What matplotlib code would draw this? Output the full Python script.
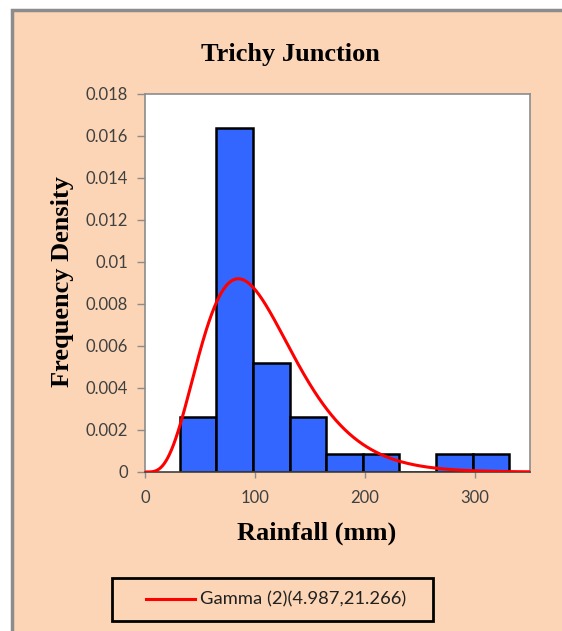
import math
import numpy as np
import matplotlib
matplotlib.use("Agg")
import matplotlib.pyplot as plt
from matplotlib.patches import Rectangle
from matplotlib.lines import Line2D

# histogram of monthly rainfall, 9 classes of width 33.3 mm
bin_start = 31.5
bin_width = 33.3
freq_density = [0.0026, 0.0164, 0.0052, 0.0026, 0.00087, 0.00087, 0.0, 0.00087, 0.00087]

# fitted gamma distribution (shape, scale)
gamma_shape = 4.987
gamma_scale = 21.266
fit_label = "Gamma (2)(4.987,21.266)"

title = "Trichy Junction"
xlabel = "Rainfall (mm)"
ylabel = "Frequency Density"
yticks = [0, 0.002, 0.004, 0.006, 0.008, 0.01, 0.012, 0.014, 0.016, 0.018]
ytick_labels = ["0", "0.002", "0.004", "0.006", "0.008", "0.01", "0.012", "0.014", "0.016", "0.018"]
xticks = [0, 100, 200, 300]

peach = "#FBD5B5"
W, H = 562, 631


def gamma_pdf(x, k, theta):
    x = np.asarray(x, dtype=float)
    out = np.zeros_like(x)
    pos = x > 0
    out[pos] = np.exp((k - 1) * np.log(x[pos]) - x[pos] / theta
                      - math.lgamma(k) - k * math.log(theta))
    return out


fig = plt.figure(figsize=(W / 100, H / 100), dpi=100, facecolor="white")

# chart area background with grey border on top / left
fig.patches.append(Rectangle((12 / W, -0.05), 1.1, 1 - 10 / H + 0.05,
                             transform=fig.transFigure, facecolor=peach,
                             edgecolor="#8c8c8c", linewidth=2.5, zorder=-10))

ax = fig.add_axes([145 / W, 1 - 472 / H, (530 - 145) / W, (472 - 94) / H])
ax.set_facecolor("white")

lefts = bin_start + bin_width * np.arange(len(freq_density))
ax.bar(lefts, freq_density, width=bin_width, align="edge",
       color="#3366FF", edgecolor="black", linewidth=1.8, zorder=2)

xs = np.linspace(0, 350, 700)
ax.plot(xs, gamma_pdf(xs, gamma_shape, gamma_scale), color="red", lw=2.2, zorder=3)

ax.set_xlim(0, 350)
ax.set_ylim(0, 0.018)
ax.set_yticks(yticks)
ax.set_yticklabels(ytick_labels)
ax.set_xticks(xticks)

for lab in ax.get_xticklabels() + ax.get_yticklabels():
    lab.set_fontfamily("Lato")
    lab.set_fontsize(12)
    lab.set_color("#404040")
ax.tick_params(axis="y", direction="out", length=6, width=1, color="#8c8c8c", pad=6)
ax.tick_params(axis="x", direction="out", length=4, width=1, color="#8c8c8c", pad=9)

for side in ["top", "right", "left"]:
    ax.spines[side].set_color("#8c8c8c")
    ax.spines[side].set_linewidth(1.2)
ax.spines["bottom"].set_color("#404040")
ax.spines["bottom"].set_linewidth(1.2)

serif = "Liberation Serif"
fig.text(290 / W, 1 - 55 / H, title, ha="center", va="center",
         family=serif, weight="bold", fontsize=19)
fig.text(317 / W, 1 - 533 / H, xlabel, ha="center", va="center",
         family=serif, weight="bold", fontsize=19)
fig.text(62 / W, 1 - 282 / H, ylabel, ha="center", va="center", rotation=90,
         family=serif, weight="bold", fontsize=19)

# legend box
fig.patches.append(Rectangle((112 / W, 1 - 621 / H), 321 / W, 43 / H,
                             transform=fig.transFigure, facecolor=peach,
                             edgecolor="black", linewidth=2, zorder=3))
fig.lines.append(Line2D([146 / W, 195 / W], [1 - 599 / H, 1 - 599 / H],
                        transform=fig.transFigure, color="red", lw=2.2, zorder=4))
fig.text(200 / W, 1 - 599 / H, fit_label, ha="left", va="center",
         family="Lato", fontsize=13.2, color="#202020", zorder=4)

fig.savefig("out.png", dpi=100, facecolor="white")
